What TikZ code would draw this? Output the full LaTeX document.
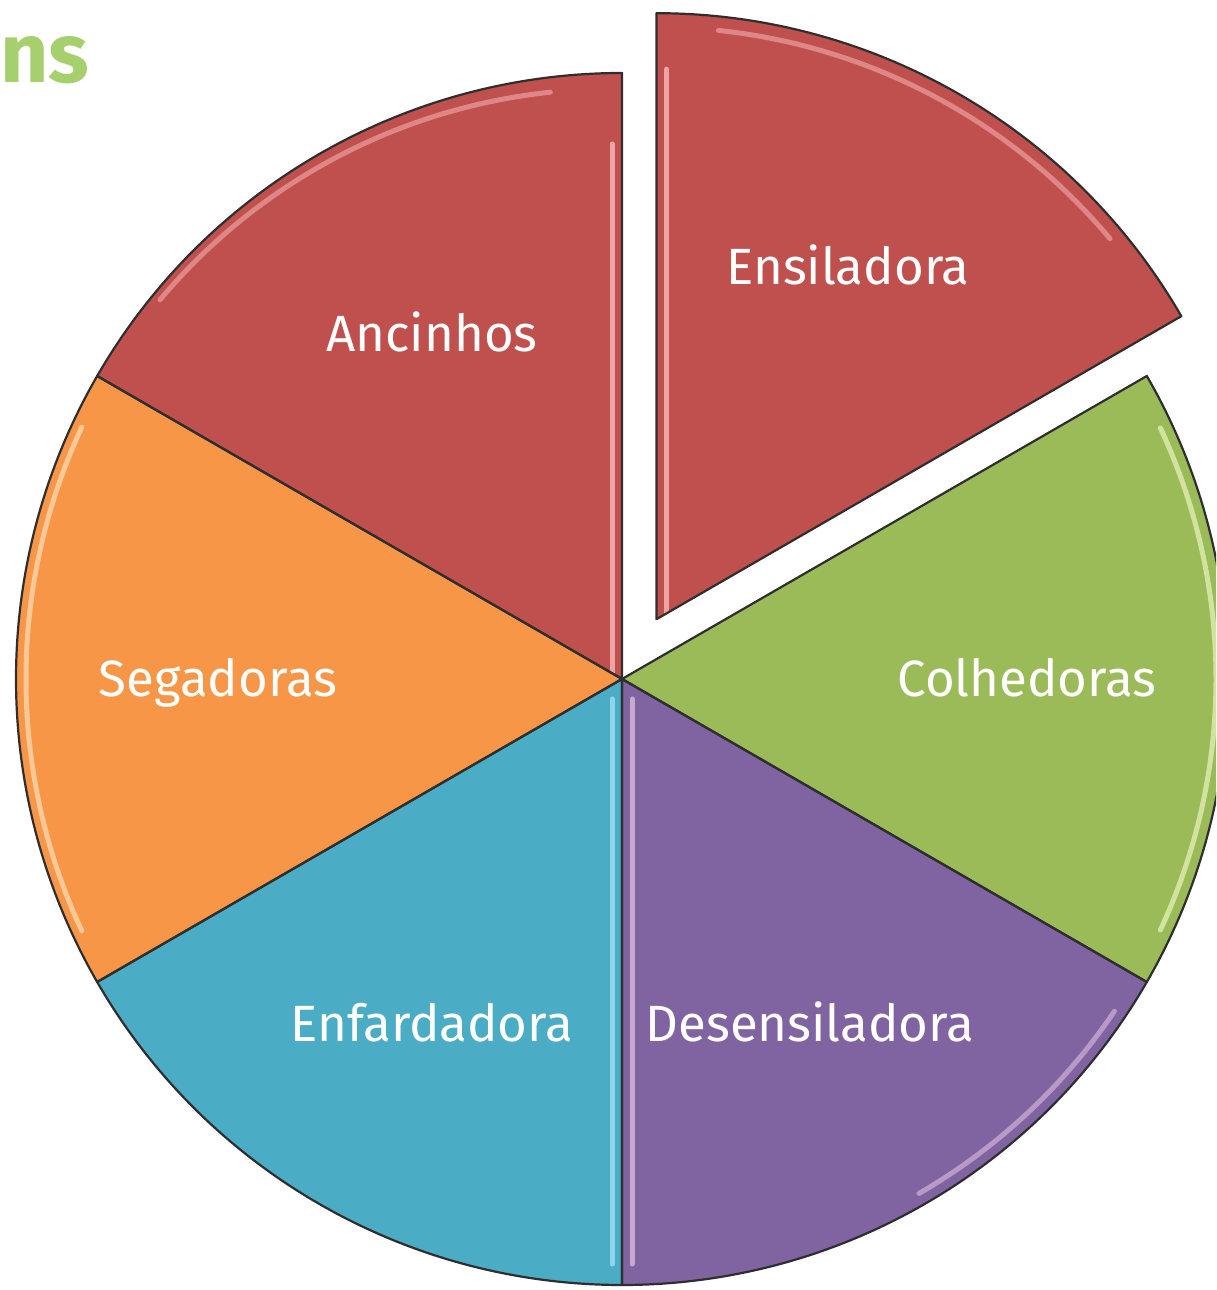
\documentclass[tikz,border=0pt]{standalone}
\usepackage{fontspec}
\setmainfont{Fira Sans}
\definecolor{cred}{HTML}{C0504D}
\definecolor{corange}{HTML}{F79646}
\definecolor{cgreen}{HTML}{9BBB59}
\definecolor{cpurple}{HTML}{8064A2}
\definecolor{cblue}{HTML}{4BACC6}
\definecolor{cedge}{HTML}{2E2E2E}
\definecolor{ctitle}{HTML}{A6CF6E}
\newcommand{\pieslice}[4]{% center, a1, a2, colour
  \fill[#4] (#1) -- ++(#2:606) arc (#2:#3:606) -- cycle;}
\newcommand{\sliceclip}[3]{\clip (#1) -- ++(#2:606) arc (#2:#3:606) -- cycle;}
\newcommand{\sliceedge}[3]{\draw[slice] (#1) -- ++(#2:606) arc (#2:#3:606) -- cycle;}
\begin{document}
\begin{tikzpicture}[x=1pt,y=1pt,
  slice/.style={draw=cedge,line width=2.2pt,line join=round},
  hl/.style={line width=5pt,line cap=round,opacity=0.75},
  lbl/.style={text=white,anchor=base,inner sep=0pt,font=\fontsize{51}{60}\selectfont}]
\useasboundingbox (0,0) rectangle (1216,1290);
\begin{scope}
\clip (0,0) rectangle (1216,1290);
\coordinate (C) at (622,611);
\coordinate (E) at (656.5,670.8);
% slices
\pieslice{C}{90}{150}{cred}
\pieslice{C}{150}{210}{corange}
\pieslice{C}{210}{270}{cblue}
\pieslice{C}{270}{330}{cpurple}
\pieslice{C}{330}{390}{cgreen}
\pieslice{E}{30}{90}{cred}
% bevel highlights, each kept inside its slice
\begin{scope}\sliceclip{C}{90}{150}
\draw[hl,draw=red!25!white] ([shift={(-10,-45)}]C) -- ++(0,580);
\draw[hl,draw=red!25!white,opacity=0.5] ([shift={(-10,0)}]C) ++(96:590) arc (96:140:590);
\end{scope}
\begin{scope}\sliceclip{E}{30}{90}
\draw[hl,draw=red!25!white] ([shift={(10,-40)}]E) -- ++(0,590);
\draw[hl,draw=red!25!white,opacity=0.5] (E) ++(84:592) arc (84:40:592);
\end{scope}
\begin{scope}\sliceclip{C}{150}{210}
\draw[hl,draw=orange!30!white] (C) ++(155:596) arc (155:205:596);
\end{scope}
\begin{scope}\sliceclip{C}{210}{270}
\draw[hl,draw=cyan!35!white] ([shift={(-10,-20)}]C) -- ++(0,-565);
\end{scope}
\begin{scope}\sliceclip{C}{270}{330}
\draw[hl,draw=violet!25!white] ([shift={(10,-20)}]C) -- ++(0,-565);
\draw[hl,draw=violet!25!white,opacity=0.6] (C) ++(326:594) arc (326:300:594);
\end{scope}
\begin{scope}\sliceclip{C}{330}{390}
\draw[hl,draw=green!20!yellow!20!white,opacity=0.6] (C) ++(335:594) arc (335:385:594);
\end{scope}
% outlines
\sliceedge{C}{90}{150}
\sliceedge{C}{150}{210}
\sliceedge{C}{210}{270}
\sliceedge{C}{270}{330}
\sliceedge{C}{330}{390}
\sliceedge{E}{30}{90}
% labels
\node[lbl] (ens) at (848,1005) {Ensiladora};
\node[lbl] (anc) at (432,938) {Ancinhos};
\node[lbl] (seg) at (218,593) {Segadoras};
\node[lbl] (col) at (1027,593) {Colhedoras};
\node[lbl] (enf) at (432,248) {Enfardadora};
\node[lbl] (des) at (810,248) {Desensiladora};
% title fragment
\node[anchor=base west,inner sep=0pt,text=ctitle,font=\fontsize{84}{96}\selectfont\bfseries] (title) at (0,1207) {ns};
\end{scope}
\end{tikzpicture}
\end{document}
